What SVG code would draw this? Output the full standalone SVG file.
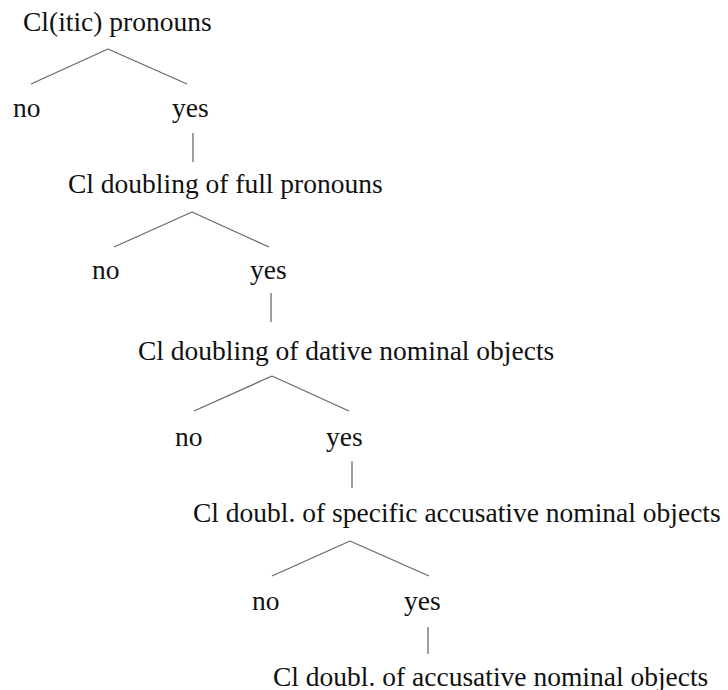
<svg xmlns="http://www.w3.org/2000/svg" width="728" height="690" viewBox="0 0 728 690">
<style>
text{font-family:"Liberation Serif","Times New Roman",serif;font-size:27.5px;fill:#111}
.c line{stroke:#6a6a6a;stroke-width:1.3;fill:none}
</style>
<rect width="728" height="690" fill="#fff"/>
<g id="n0"><text x="23" y="31">Cl(itic) pronouns</text></g>
<g id="n0no"><text x="13" y="117">no</text></g>
<g id="n0yes"><text x="172" y="117">yes</text></g>
<g id="n1"><text x="68" y="193">Cl doubling of full pronouns</text></g>
<g id="n1no"><text x="92" y="279">no</text></g>
<g id="n1yes"><text x="250" y="279">yes</text></g>
<g id="n2"><text x="138" y="360">Cl doubling of dative nominal objects</text></g>
<g id="n2no"><text x="175" y="446">no</text></g>
<g id="n2yes"><text x="326" y="446">yes</text></g>
<g id="n3"><text x="193" y="522">Cl doubl. of specific accusative nominal objects</text></g>
<g id="n3no"><text x="252" y="610">no</text></g>
<g id="n3yes"><text x="404" y="610">yes</text></g>
<g id="n4"><text x="273" y="686">Cl doubl. of accusative nominal objects</text></g>
<g id="connectors" class="c">
<line x1="108" y1="49" x2="31" y2="84"/><line x1="108" y1="49" x2="187" y2="84"/>
<line x1="193" y1="133" x2="193" y2="162"/>
<line x1="192" y1="212" x2="114" y2="247"/><line x1="192" y1="212" x2="269" y2="247"/>
<line x1="271" y1="293" x2="271" y2="322"/>
<line x1="272" y1="376" x2="194" y2="411"/><line x1="272" y1="376" x2="349" y2="411"/>
<line x1="352" y1="461" x2="352" y2="488"/>
<line x1="350" y1="541" x2="272" y2="576"/><line x1="350" y1="541" x2="429" y2="576"/>
<line x1="428" y1="627" x2="428" y2="654"/>
</g>
</svg>
